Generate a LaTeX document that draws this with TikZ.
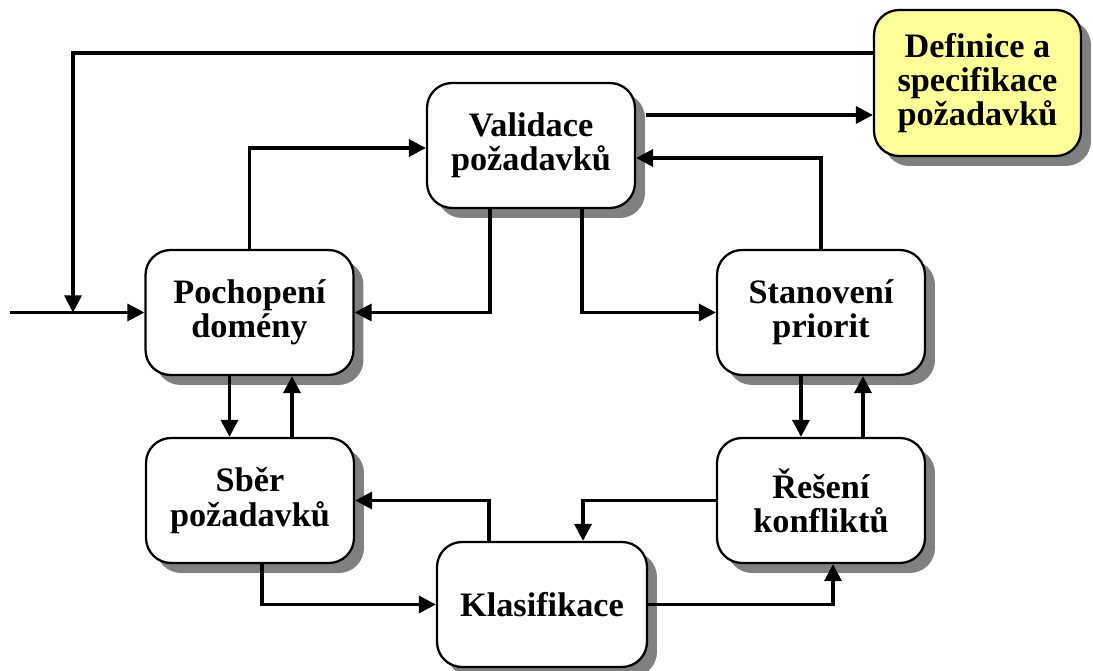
\documentclass[tikz,border=0pt]{standalone}
\usepackage{fontspec}
\setmainfont{Liberation Serif}
\usetikzlibrary{arrows.meta,shadows}
\definecolor{note}{HTML}{FFFF99}
\definecolor{shade}{HTML}{808080}

\begin{document}
\begin{tikzpicture}[x=.02cm,y=-.02cm,stage/.style={draw,line width=1.3pt,rounded corners=.5cm,fill=white,minimum width=4.16cm,minimum height=2.5cm,align=center,font=\bfseries\fontsize{19.5}{19.5}\selectfont,drop shadow={shadow xshift=.2cm,shadow yshift=-.2cm,fill=shade,opacity=1}},flow/.style={line width=1.9pt,-{Triangle[length=.34cm,width=.34cm]}}]
 \useasboundingbox (0,0) rectangle (1093,671);
 \node[stage,fill=note,minimum width=4.14cm,minimum height=2.92cm] (defin) at (977.5,83) {Definice a\\specifikace\\požadavků};
 \node[stage] (valid) at (531,145.5) {Validace\\požadavků};
 \node[stage] (pochop) at (249.5,312.5) {Pochopení\\domény};
 \node[stage] (stanov) at (821,312.5) {Stanovení\\priorit};
 \node[stage] (sber) at (250,500.5) {Sběr\\požadavků};
 \node[stage] (reseni) at (821,500.5) {Řešení\\konfliktů};
 \node[stage,minimum width=4.2cm] (klasif) at (542,604.5) {Klasifikace};
 \coordinate (start) at (10,312.5);
 \coordinate (join) at (73,312.5);
 % entry and feedback from the specification
 \draw[flow] (start) -- (pochop.west);
 \draw[flow] ([yshift=.6cm]defin.west) -| (join);
 % around the cycle
 \draw[flow] (pochop.north) |- ([yshift=-.05cm]valid.west);
 \draw[flow] ([xshift=-.82cm]valid.south) |- (pochop.east);
 \draw[flow] ([xshift=1.02cm]valid.south) |- (stanov.west);
 \draw[flow] ([xshift=.2cm,yshift=.61cm]valid.east) -- ([yshift=.61cm]valid.east -| defin.west);
 \draw[flow] (stanov.north) |- ([yshift=-.25cm]valid.east);
 \draw[flow] ([xshift=-.4cm]pochop.south) -- ([xshift=-.4cm]pochop.south |- sber.north);
 \draw[flow] ([xshift=.84cm]sber.north) -- ([xshift=.84cm]sber.north |- pochop.south);
 \draw[flow] ([xshift=-.4cm]stanov.south) -- ([xshift=-.4cm]stanov.south |- reseni.north);
 \draw[flow] ([xshift=.84cm]reseni.north) -- ([xshift=.84cm]reseni.north |- stanov.south);
 \draw[flow] (reseni.west) -| ([xshift=.82cm]klasif.north);
 \draw[flow] ([xshift=-1.06cm]klasif.north) |- (sber.east);
 \draw[flow] ([xshift=.24cm]sber.south) |- (klasif.west);
 \draw[flow] (klasif.east) -| ([xshift=.24cm]reseni.south);
\end{tikzpicture}
\end{document}
